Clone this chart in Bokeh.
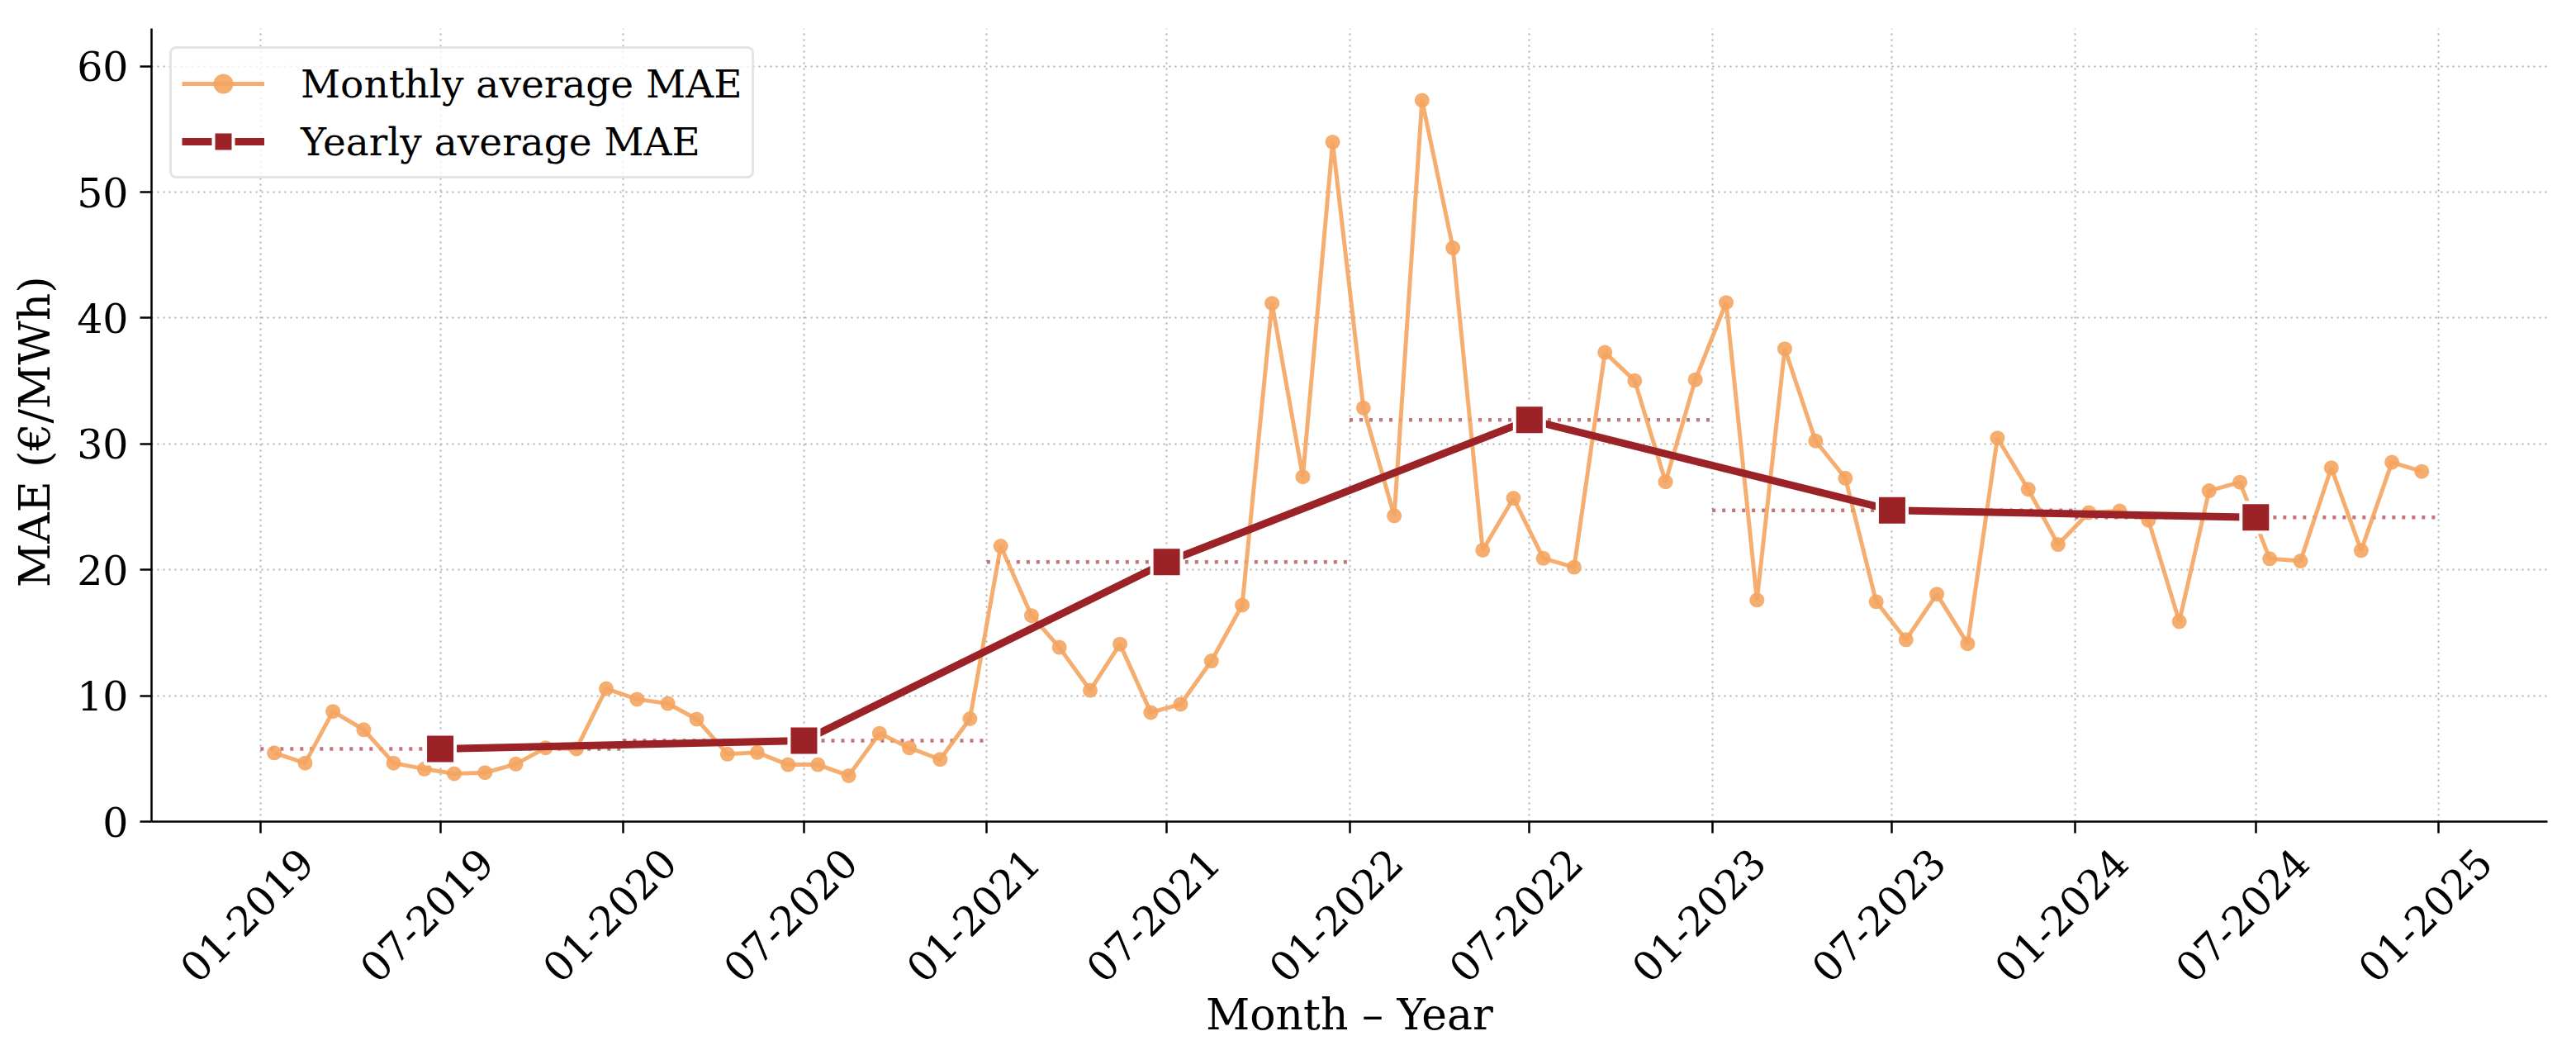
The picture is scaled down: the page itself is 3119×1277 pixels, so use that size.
from datetime import datetime, timedelta
from math import pi

from bokeh.embed import file_html
from bokeh.models import (CustomJSTickFormatter, DatetimeAxis, FixedTicker,
                          Legend, LegendItem, Range1d)
from bokeh.plotting import figure
from bokeh.resources import INLINE

# monthly average MAE (EUR/MWh)
years = [2019, 2020, 2021, 2022, 2023, 2024]
mae_2019 = [5.46, 4.65, 8.75, 7.30, 4.65, 4.18, 3.81, 3.89, 4.57, 5.86, 5.78, 10.56]
mae_2020 = [9.72, 9.38, 8.14, 5.36, 5.49, 4.52, 4.52, 3.65, 7.01, 5.86, 4.94, 8.17]
mae_2021 = [21.88, 16.36, 13.84, 10.43, 14.10, 8.67, 9.32, 12.76, 17.20, 41.17, 27.39, 53.98]
mae_2022 = [32.85, 24.29, 57.29, 45.57, 21.56, 25.69, 20.91, 20.21, 37.27, 35.02, 26.99, 35.10]
mae_2023 = [41.23, 17.60, 37.56, 30.24, 27.28, 17.47, 14.45, 18.07, 14.13, 30.47, 26.40, 22.01]
mae_2024 = [24.55, 24.67, 23.94, 15.89, 26.28, 26.96, 20.88, 20.70, 28.10, 21.54, 28.54, 27.81]

# yearly average MAE
yearly_mae = [5.78, 6.43, 20.62, 31.91, 24.73, 24.17]

tick_labels = ["01-2019", "07-2019", "01-2020", "07-2020", "01-2021", "07-2021",
               "01-2022", "07-2022", "01-2023", "07-2023", "01-2024", "07-2024",
               "01-2025"]

FONT = "DejaVu Serif"
MONTHLY_COLOR = "#f4a460"
YEARLY_COLOR = "#9b2226"

monthly_mae = mae_2019 + mae_2020 + mae_2021 + mae_2022 + mae_2023 + mae_2024
month_dates = [datetime(y, m, 15) for y in years for m in range(1, 13)]
year_mid = [datetime(y, 7, 1) for y in years]
year_start = [datetime(y, 1, 1) for y in years]
year_end = [datetime(y, 12, 31) for y in years]

epoch = datetime(1970, 1, 1)


def ms(d):
    return (d - epoch).total_seconds() * 1000.0


tick_dates = [datetime(int(t[3:]), int(t[:2]), 1) for t in tick_labels]
tick_ms = [ms(d) for d in tick_dates]
# bokeh anchors rotated labels at their right end; matplotlib centres them on
# the tick, so the label axis gets its ticks nudged to the right
label_ms = [ms(d + timedelta(days=46)) for d in tick_dates]

p = figure(
    width=3103, height=1261,
    x_axis_type="datetime",
    x_range=Range1d(datetime(2018, 9, 13, 11), datetime(2025, 4, 20, 13)),
    y_range=Range1d(0, 63),
    output_backend="svg", toolbar_location=None,
    min_border_left=183, min_border_right=19,
    min_border_top=34, min_border_bottom=267,
)
p.outline_line_color = None

# yearly mean spans (dotted)
p.segment(x0=year_start, x1=year_end, y0=yearly_mae, y1=yearly_mae,
          line_color=YEARLY_COLOR, line_alpha=0.62, line_width=4.5, line_dash="4 8")

m_line = p.line(month_dates, monthly_mae, line_color=MONTHLY_COLOR, line_width=5, line_alpha=0.9)
m_pts = p.scatter(month_dates, monthly_mae, marker="circle", size=18,
                  fill_color=MONTHLY_COLOR, line_color=None, fill_alpha=0.9)

y_line = p.line(year_mid, yearly_mae, line_color=YEARLY_COLOR, line_width=9)
y_pts = p.scatter(year_mid, yearly_mae, marker="square", size=36,
                  fill_color=YEARLY_COLOR, line_color="white", line_width=4)

# axes
ticker = FixedTicker(ticks=tick_ms)
xax = p.xaxis[0]
yax = p.yaxis[0]
xax.ticker = ticker
p.xgrid.ticker = ticker
xax.formatter = CustomJSTickFormatter(code="return ''")
xax.major_label_text_font_size = "1px"
xax.major_label_standoff = 0
yax.ticker = FixedTicker(ticks=[0, 10, 20, 30, 40, 50, 60])

for ax in (xax, yax):
    ax.axis_line_width = 2.5
    ax.axis_line_color = "black"
    ax.major_tick_line_width = 2.5
    ax.major_tick_out = 14
    ax.major_tick_in = 0
    ax.minor_tick_out = 0
    ax.minor_tick_in = 0

yax.major_label_text_font = FONT
yax.major_label_text_font_size = "49px"
yax.major_label_text_color = "black"
yax.major_label_standoff = 14
yax.axis_label = "MAE  (€/MWh)"
yax.axis_label_standoff = 18
yax.axis_label_text_font = FONT
yax.axis_label_text_font_size = "52px"
yax.axis_label_text_font_style = "normal"
yax.axis_label_text_color = "black"

# second bottom axis that only carries the rotated date labels
lab_ax = DatetimeAxis(
    ticker=FixedTicker(ticks=label_ms),
    formatter=CustomJSTickFormatter(args=dict(labels=tick_labels, vals=label_ms),
                                    code="return labels[vals.indexOf(tick)]"),
    axis_line_color=None, major_tick_line_color=None, minor_tick_line_color=None,
    major_tick_out=0, major_tick_in=0, minor_tick_out=0, minor_tick_in=0,
    major_label_orientation=pi / 4, major_label_standoff=27,
    major_label_text_font=FONT, major_label_text_font_size="49px",
    major_label_text_color="black",
    axis_label="Month – Year", axis_label_standoff=-10,
    axis_label_text_font=FONT, axis_label_text_font_size="52px",
    axis_label_text_font_style="normal", axis_label_text_color="black",
)
p.add_layout(lab_ax, "below")

p.grid.grid_line_color = "#b0b0b0"
p.grid.grid_line_width = 2
p.grid.grid_line_dash = "2 5"

legend = Legend(items=[
    LegendItem(label="Monthly average MAE", renderers=[m_line, m_pts]),
    LegendItem(label="Yearly average MAE", renderers=[y_line, y_pts]),
], location="top_left")
legend.label_text_font = FONT
legend.label_text_font_size = "47px"
legend.label_text_color = "black"
legend.glyph_width = 100
legend.glyph_height = 60
legend.label_standoff = 44
legend.padding = 12
legend.spacing = 10
legend.margin = 22
legend.border_line_color = "#cccccc"
legend.border_line_width = 3
legend.border_radius = 8
legend.background_fill_alpha = 0.8
p.add_layout(legend)

open("out.html", "w").write(file_html(p, INLINE))
